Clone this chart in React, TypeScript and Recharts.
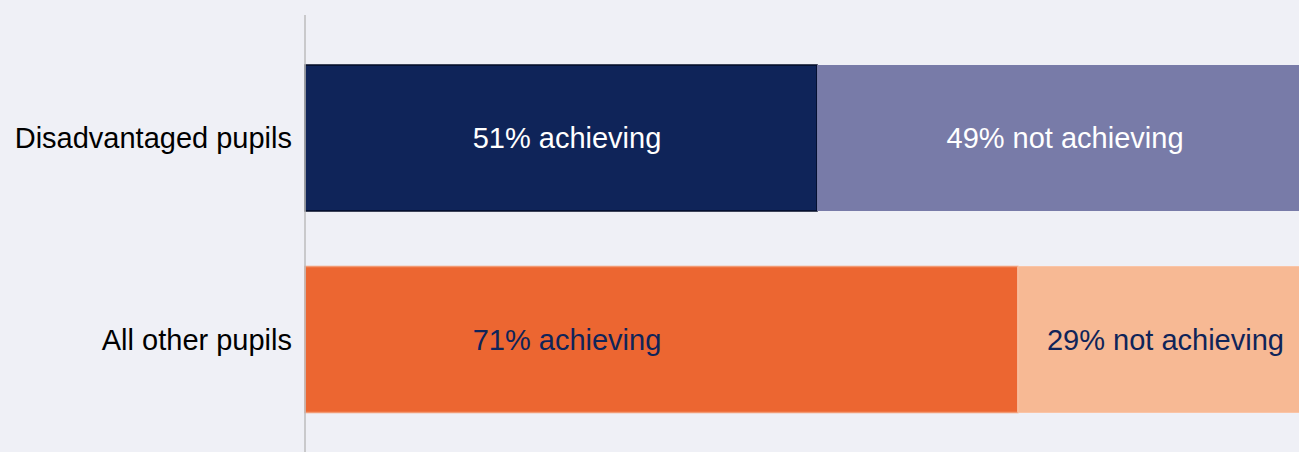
import React from 'react';
import { BarChart, Bar, XAxis, YAxis, Cell, LabelList } from 'recharts';

const categories = ['Disadvantaged pupils', 'All other pupils'];
const achieving = [51, 71];
const notAchieving = [49, 29];

const achievingColors = ['#0f2459', '#ec6631'];
const notAchievingColors = ['#787ba8', '#f7b994'];
const labelColors = ['#ffffff', '#0f2459'];

const data = categories.map((c, i) => ({
  name: c,
  achieving: achieving[i],
  notAchieving: notAchieving[i],
}));

const FONT = '"Liberation Sans", Arial, sans-serif';

// Left labels in the reference all sit at the same x (centre of the first row's segment).
const achievingLabel = (props: any) => {
  const { x, y, width, height, value, index } = props;
  const unit = width / value;
  const cx = x + (unit * achieving[0]) / 2 + 6;
  return (
    <text
      x={cx}
      y={y + height / 2}
      textAnchor="middle"
      dominantBaseline="central"
      fill={labelColors[index]}
      fontSize={29}
      fontFamily={FONT}
    >
      {`${value}% achieving`}
    </text>
  );
};

const notAchievingLabel = (props: any) => {
  const { x, y, width, height, value, index } = props;
  return (
    <text
      x={x + width / 2 + 2}
      y={y + height / 2}
      textAnchor="middle"
      dominantBaseline="central"
      fill={labelColors[index]}
      fontSize={29}
      fontFamily={FONT}
    >
      {`${value}% not achieving`}
    </text>
  );
};

export default function App() {
  return (
    <div
      style={{
        position: 'absolute',
        left: 0,
        top: 0,
        width: 1299,
        height: 452,
        overflow: 'hidden',
        background: '#eff0f6',
      }}
    >
      <BarChart
        width={1309}
        height={463}
        data={data}
        layout="vertical"
        margin={{ top: 15, right: 0, bottom: 0, left: 0 }}
      >
        <XAxis type="number" domain={[0, 100]} hide />
        <YAxis
          type="category"
          dataKey="name"
          width={305}
          padding={{ top: 22, bottom: 23 }}
          tickLine={false}
          tickSize={0}
          tickMargin={13}
          axisLine={{ stroke: '#bdbdbd', strokeWidth: 1.5 }}
          tick={{ fill: '#000000', fontSize: 29, fontFamily: FONT }}
        />
        <Bar dataKey="achieving" stackId="a" barSize={146} isAnimationActive={false}>
          {data.map((d, i) => (
            <Cell
              key={d.name}
              fill={achievingColors[i]}
              stroke={i === 0 ? '#020a24' : '#f29a74'}
              strokeWidth={1.5}
            />
          ))}
          <LabelList dataKey="achieving" content={achievingLabel} />
        </Bar>
        <Bar dataKey="notAchieving" stackId="a" barSize={146} isAnimationActive={false}>
          {data.map((d, i) => (
            <Cell key={d.name} fill={notAchievingColors[i]} stroke={i === 0 ? 'none' : '#fac4a6'} strokeWidth={1} />
          ))}
          <LabelList dataKey="notAchieving" content={notAchievingLabel} />
        </Bar>
      </BarChart>
    </div>
  );
}
